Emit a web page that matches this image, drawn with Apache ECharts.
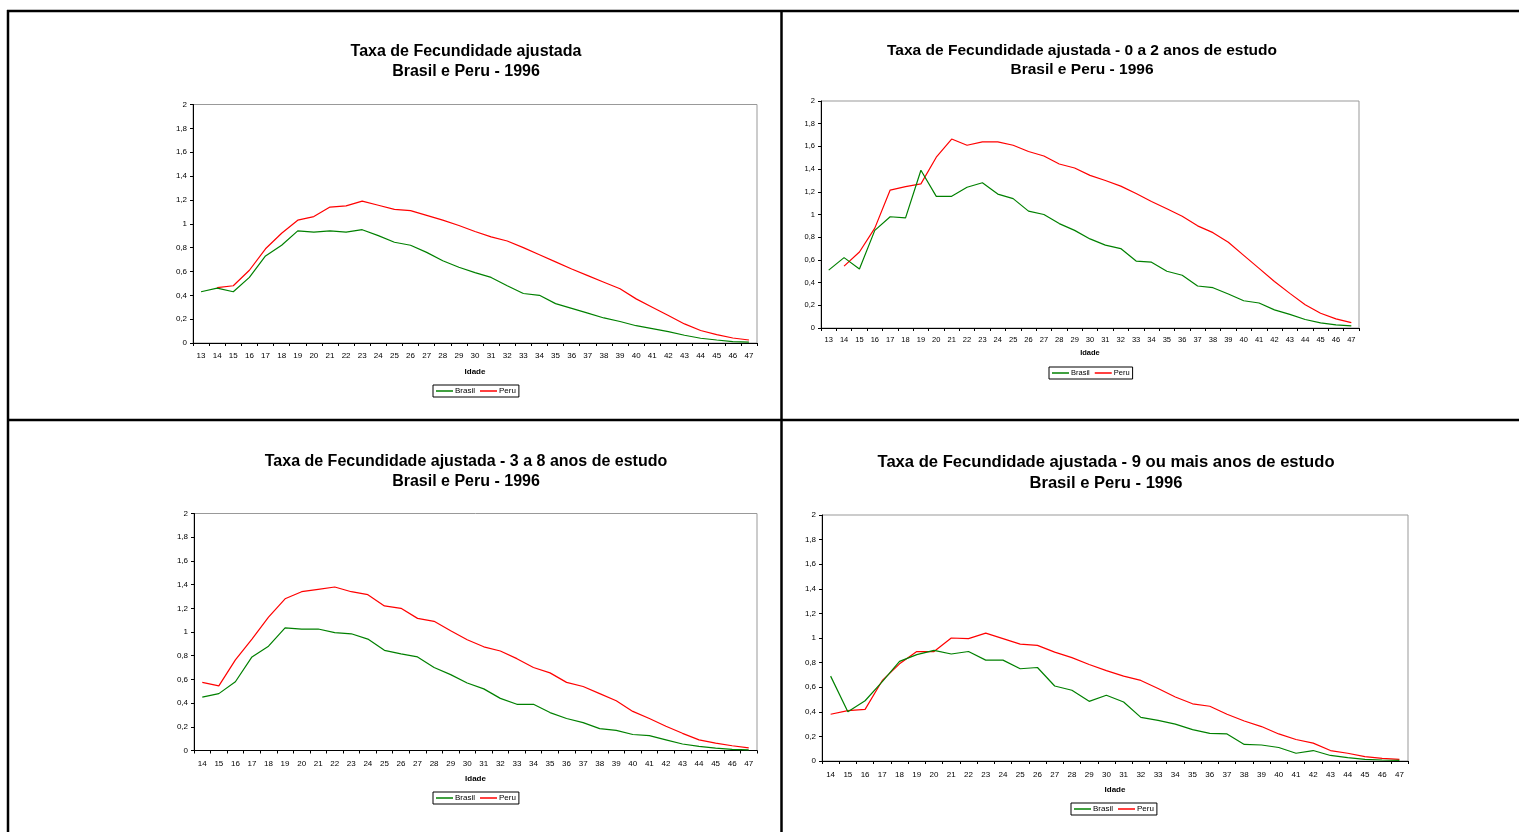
<!DOCTYPE html>
<html>
<head>
<meta charset="utf-8">
<script src="https://cdn.jsdelivr.net/npm/echarts@6/dist/echarts.min.js"></script>
<style>
html,body{margin:0;padding:0;background:#fff;}
#chart{width:1519px;height:832px;}
</style>
</head>
<body>
<div id="chart"></div>
<script>
// ---- Data ----
const ages13 = ['13','14','15','16','17','18','19','20','21','22','23','24','25','26','27','28','29','30','31','32','33','34','35','36','37','38','39','40','41','42','43','44','45','46','47'];
const ages14 = ['14','15','16','17','18','19','20','21','22','23','24','25','26','27','28','29','30','31','32','33','34','35','36','37','38','39','40','41','42','43','44','45','46','47'];
const yTicks = ['0','0,2','0,4','0,6','0,8','1','1,2','1,4','1,6','1,8','2'];

const titles = [
  'Taxa de Fecundidade ajustada\nBrasil e Peru - 1996',
  'Taxa de Fecundidade ajustada - 0 a 2 anos de estudo\nBrasil e Peru - 1996',
  'Taxa de Fecundidade ajustada - 3 a 8 anos de estudo\nBrasil e Peru - 1996',
  'Taxa de Fecundidade ajustada - 9 ou mais anos de estudo\nBrasil e Peru - 1996'
];

// Chart 1: total (ages 13-47)
const brasilTotal = [0.43,0.46,0.43,0.55,0.73,0.82,0.94,0.93,0.94,0.93,0.95,0.90,0.845,0.82,0.76,0.69,0.635,0.59,0.55,0.48,0.415,0.40,0.33,0.29,0.25,0.21,0.18,0.145,0.12,0.095,0.065,0.04,0.025,0.012,0.008];
const peruTotal = ['-',0.465,0.48,0.61,0.79,0.92,1.03,1.06,1.14,1.15,1.19,1.155,1.12,1.11,1.07,1.03,0.985,0.935,0.89,0.855,0.80,0.74,0.68,0.62,0.565,0.51,0.455,0.37,0.30,0.23,0.16,0.105,0.07,0.042,0.025];

// Chart 2: 0-2 years of schooling (ages 13-47)
const brasil02 = [0.51,0.62,0.52,0.86,0.98,0.97,1.39,1.16,1.16,1.24,1.28,1.18,1.14,1.03,1.00,0.92,0.86,0.785,0.73,0.70,0.59,0.58,0.50,0.465,0.37,0.355,0.30,0.24,0.22,0.16,0.12,0.075,0.045,0.027,0.018];
const peru02 = ['-',0.545,0.67,0.88,1.215,1.245,1.27,1.505,1.665,1.61,1.64,1.64,1.61,1.555,1.515,1.445,1.41,1.345,1.30,1.25,1.185,1.115,1.05,0.985,0.90,0.84,0.755,0.64,0.525,0.41,0.305,0.205,0.13,0.08,0.047];

// Chart 3: 3-8 years of schooling (ages 14-47)
const brasil38 = [0.45,0.48,0.58,0.79,0.88,1.035,1.025,1.025,0.995,0.985,0.94,0.845,0.815,0.79,0.70,0.64,0.57,0.52,0.44,0.39,0.39,0.32,0.27,0.235,0.185,0.17,0.135,0.125,0.09,0.055,0.035,0.02,0.01,0.006];
const peru38 = [0.575,0.545,0.765,0.94,1.125,1.28,1.34,1.36,1.38,1.34,1.315,1.22,1.20,1.115,1.09,1.01,0.935,0.875,0.84,0.775,0.70,0.655,0.575,0.54,0.48,0.42,0.33,0.27,0.205,0.145,0.09,0.062,0.04,0.022];

// Chart 4: 9+ years of schooling (ages 14-47)
const brasil9 = [0.69,0.40,0.49,0.645,0.81,0.865,0.90,0.87,0.89,0.82,0.82,0.75,0.76,0.61,0.575,0.485,0.535,0.48,0.355,0.33,0.30,0.255,0.225,0.22,0.135,0.13,0.11,0.063,0.085,0.045,0.027,0.014,0.008,0.005];
const peru9 = [0.38,0.41,0.42,0.655,0.79,0.89,0.89,1.00,0.995,1.04,0.995,0.95,0.94,0.885,0.84,0.785,0.735,0.69,0.655,0.59,0.52,0.465,0.445,0.38,0.325,0.28,0.22,0.175,0.145,0.085,0.063,0.035,0.022,0.014];

// ---- Layout ----
const FONT = 'Liberation Sans, Arial, sans-serif';
const panels = [
  {cats: ages13, b: brasilTotal, p: peruTotal, grid:{left:193, top:104.5, width:564, height:238.5}, title:{x:466, y:42, size:16, lh:20}, legend:{left:433, top:385}, lab:8.5, nameGap:25, fs:8},
  {cats: ages13, b: brasil02, p: peru02, grid:{left:821, top:101, width:538, height:227}, title:{x:1082, y:41, size:15.5, lh:19}, legend:{left:1049, top:367}, lab:8, nameGap:21, fs:7.5},
  {cats: ages14, b: brasil38, p: peru38, grid:{left:194, top:513.5, width:563, height:237}, title:{x:466, y:452, size:16, lh:20}, legend:{left:433, top:792}, lab:9, nameGap:24.5, fs:8},
  {cats: ages14, b: brasil9, p: peru9, grid:{left:822, top:515, width:586, height:246}, title:{x:1106, y:451.5, size:16.6, lh:21}, legend:{left:1071, top:803}, lab:9.5, nameGap:25, fs:8}
];

const option = {
  animation:false,
  backgroundColor:'#fff',
  title:[], grid:[], xAxis:[], yAxis:[], legend:[], series:[],
  graphic:[
    {type:'line', shape:{x1:7, y1:11, x2:1519, y2:11}, style:{stroke:'#000', lineWidth:2.5}, z:100},
    {type:'line', shape:{x1:8, y1:10, x2:8, y2:832}, style:{stroke:'#000', lineWidth:2.5}, z:100},
    {type:'line', shape:{x1:781.5, y1:10, x2:781.5, y2:832}, style:{stroke:'#000', lineWidth:2.5}, z:100},
    {type:'line', shape:{x1:7, y1:420, x2:1519, y2:420}, style:{stroke:'#000', lineWidth:2.5}, z:100}
  ]
};

panels.forEach((pn, i) => {
  option.title.push({
    text: titles[i], left: pn.title.x, top: pn.title.y, textAlign:'center', padding:0,
    textStyle:{fontFamily:FONT, fontWeight:'bold', fontSize:pn.title.size, lineHeight:pn.title.lh, color:'#000'}
  });
  option.grid.push(Object.assign({show:true, borderColor:'#999', borderWidth:1, backgroundColor:'transparent', containLabel:false}, pn.grid));
  option.xAxis.push({
    type:'category', gridIndex:i, data:pn.cats, boundaryGap:true,
    name:'Idade', nameLocation:'middle', nameGap:pn.nameGap,
    nameTextStyle:{fontFamily:FONT, fontWeight:'bold', fontSize:pn.fs, color:'#000'},
    axisLine:{lineStyle:{color:'#000', width:1}},
    axisTick:{show:true, length:3, inside:false, lineStyle:{color:'#000'}, interval:0},
    axisLabel:{interval:0, margin:pn.lab, fontFamily:FONT, fontSize:pn.fs, color:'#000'},
    splitLine:{show:false}
  });
  option.yAxis.push({
    type:'value', gridIndex:i, min:0, max:2, interval:0.2,
    axisLine:{show:true, lineStyle:{color:'#000', width:1}},
    axisTick:{show:true, length:3, lineStyle:{color:'#000'}},
    axisLabel:{margin:6, fontFamily:FONT, fontSize:pn.fs, color:'#000',
      formatter:(v)=> yTicks[Math.round(v/0.2)]},
    splitLine:{show:false}
  });
  option.legend.push({
    left:pn.legend.left, top:pn.legend.top, orient:'horizontal',
    data:['Brasil','Peru'], icon:'rect', itemWidth:17, itemHeight:1.5, itemGap:5,
    padding:[2,3,2,3], borderColor:'#000', borderWidth:1, backgroundColor:'#fff',
    selectedMode:false,
    textStyle:{fontFamily:FONT, fontSize:pn.fs, color:'#000', padding:[0,0,0,-3]}
  });
  option.series.push({
    name:'Brasil', type:'line', xAxisIndex:i, yAxisIndex:i, data:pn.b,
    symbol:'none', lineStyle:{color:'#008000', width:1.2}, itemStyle:{color:'#008000'}, z:3
  });
  option.series.push({
    name:'Peru', type:'line', xAxisIndex:i, yAxisIndex:i, data:pn.p,
    symbol:'none', lineStyle:{color:'#ff0000', width:1.2}, itemStyle:{color:'#ff0000'}, z:2
  });
});

const chart = echarts.init(document.getElementById('chart'), null, {renderer:'canvas'});
chart.setOption(option);
</script>
</body>
</html>
